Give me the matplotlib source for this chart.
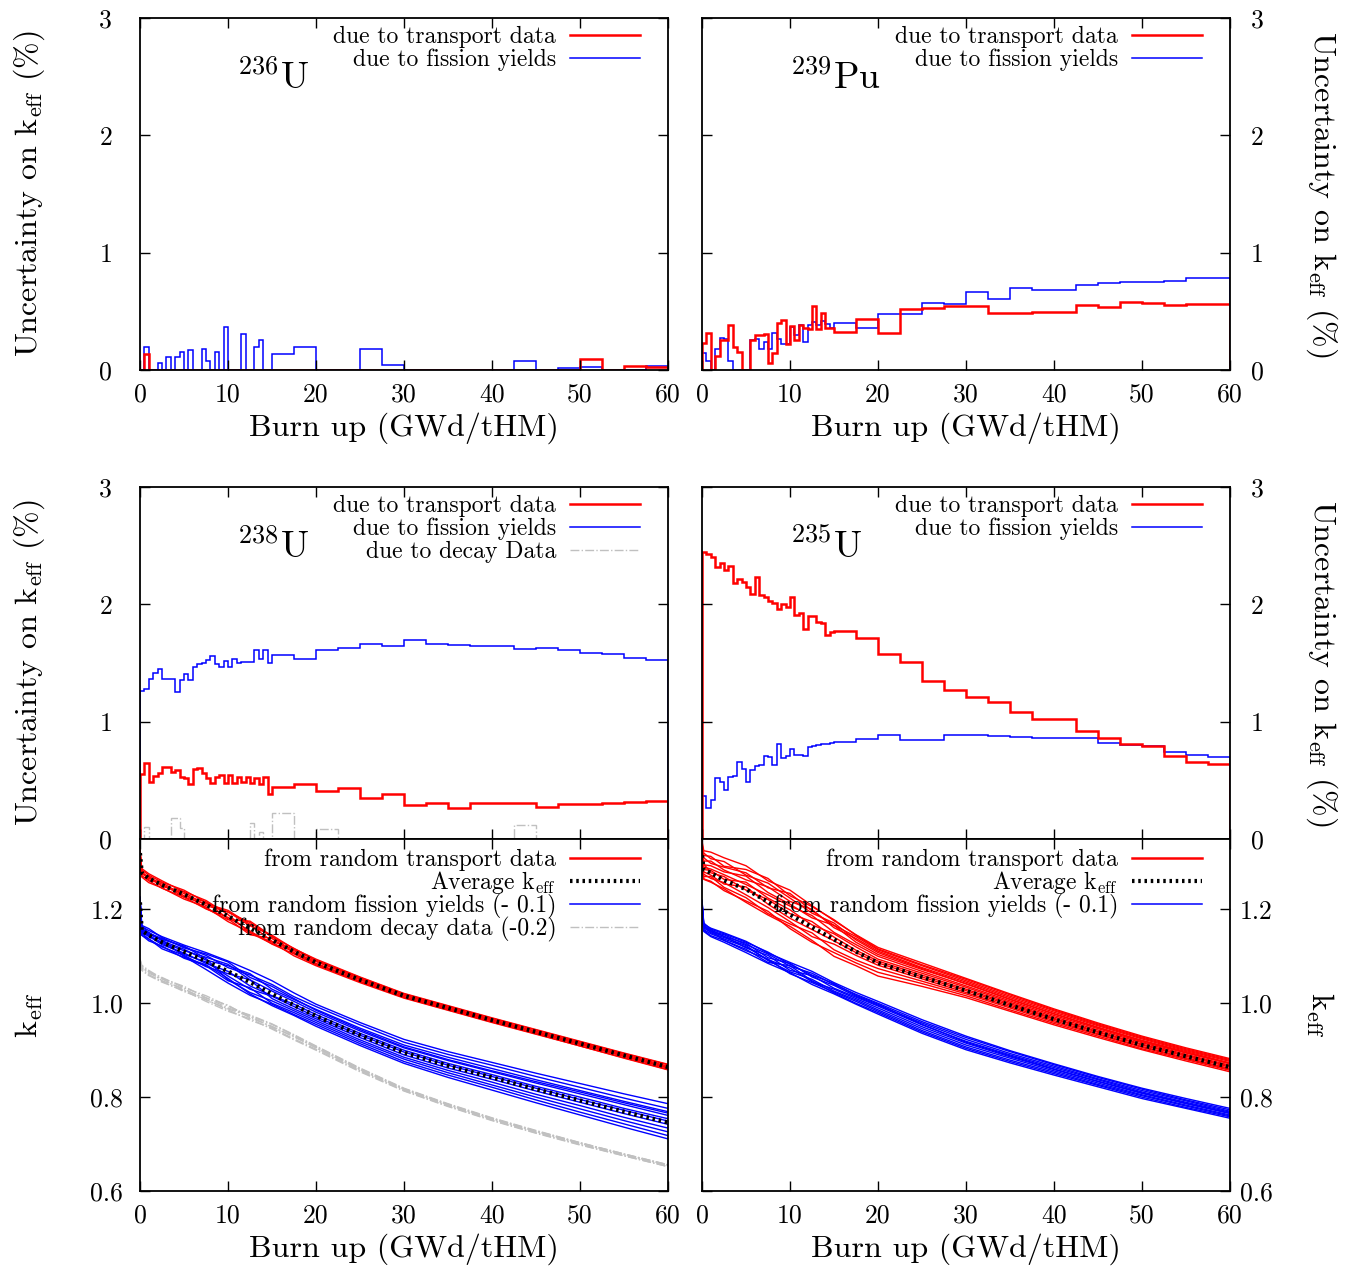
import numpy as np
import matplotlib
matplotlib.use("Agg")
import matplotlib.pyplot as plt
from matplotlib.lines import Line2D
from matplotlib.ticker import FixedLocator, StrMethodFormatter

plt.rcParams['font.family'] = 'cmr10'
plt.rcParams['mathtext.fontset'] = 'cm'
plt.rcParams['axes.unicode_minus'] = False

# Burn-up bins: 0.5 GWd/tHM steps up to 15, then 2.5 GWd/tHM steps
edges = np.concatenate([np.arange(0, 15, 0.5), np.arange(15, 60.01, 2.5)])

# Relative uncertainty on keff (%) per burn-up bin
u236_tr = [0, 0.14, 0, 0, 0, 0, 0, 0, 0, 0, 0, 0, 0, 0, 0, 0, 0, 0, 0, 0,
           0, 0, 0, 0, 0, 0, 0, 0, 0, 0,
           0, 0, 0, 0, 0, 0, 0, 0, 0, 0, 0, 0, 0, 0, 0.094, 0, 0.034, 0.023]
u236_fy = [0, 0.2, 0, 0, 0.057, 0, 0.114, 0, 0.108, 0.15, 0, 0.17, 0, 0, 0.176, 0.08,
           0, 0.156, 0, 0.364, 0, 0, 0, 0.31, 0, 0, 0.2, 0.256, 0, 0,
           0.14, 0.2, 0, 0, 0.18, 0.043, 0, 0, 0, 0, 0, 0.08, 0, 0.02, 0.028, 0, 0, 0.034]

pu239_tr = [0.227, 0.312, 0, 0.122, 0.255, 0.255, 0.383, 0.2, 0.15, 0, 0, 0.255, 0.298,
            0.30, 0.306, 0.062, 0.142, 0.397, 0.425, 0.218, 0.374, 0.255, 0.383, 0.355,
            0.35, 0.548, 0.348, 0.482, 0.355, 0.355,
            0.326, 0.434, 0.312, 0.516, 0.53, 0.545, 0.548, 0.49, 0.49, 0.496, 0.496,
            0.553, 0.54, 0.58, 0.574, 0.553, 0.562, 0.562]
pu239_fy = [0.142, 0.08, 0, 0.176, 0.275, 0.26, 0.08, 0, 0, 0, 0, 0.255, 0.26, 0.176,
            0.24, 0.176, 0.318, 0.26, 0.22, 0.22, 0.363, 0.298, 0.383, 0.24, 0.383,
            0.41, 0.383, 0.417, 0.39, 0.36,
            0.40, 0.36, 0.48, 0.48, 0.573, 0.562, 0.667, 0.604, 0.695, 0.686, 0.686,
            0.723, 0.743, 0.752, 0.752, 0.76, 0.786, 0.786]

u238_tr = [0.55, 0.644, 0.488, 0.536, 0.559, 0.61, 0.61, 0.573, 0.587, 0.525, 0.522,
           0.468, 0.596, 0.601, 0.559, 0.522, 0.479, 0.525, 0.545, 0.479, 0.545, 0.474,
           0.53, 0.488, 0.53, 0.474, 0.522, 0.468, 0.53, 0.383,
           0.445, 0.465, 0.409, 0.431, 0.346, 0.383, 0.289, 0.309, 0.267, 0.304, 0.304,
           0.304, 0.275, 0.298, 0.298, 0.304, 0.312, 0.323]
u238_fy = [1.262, 1.282, 1.367, 1.416, 1.452, 1.367, 1.367, 1.367, 1.254, 1.359, 1.41,
           1.353, 1.467, 1.489, 1.50, 1.523, 1.557, 1.489, 1.467, 1.515, 1.467, 1.532,
           1.50, 1.509, 1.509, 1.509, 1.608, 1.532, 1.614, 1.50,
           1.566, 1.538, 1.614, 1.631, 1.665, 1.645, 1.694, 1.66, 1.657, 1.643, 1.643,
           1.623, 1.631, 1.609, 1.589, 1.574, 1.543, 1.523]
u238_dd = [0, 0.1, 0, 0, 0, 0, 0, 0.176, 0.176, 0.09, 0, 0, 0, 0, 0, 0, 0, 0, 0, 0,
           0, 0, 0, 0, 0, 0.14, 0, 0.06, 0, 0,
           0.218, 0, 0.082, 0, 0, 0, 0, 0, 0, 0, 0, 0.12, 0, 0, 0, 0, 0, 0]

u235_tr = [2.445, 2.43, 2.40, 2.32, 2.35, 2.29, 2.33, 2.18, 2.22, 2.19, 2.15, 2.09, 2.23,
           2.08, 2.06, 2.03, 2.01, 1.96, 2.00, 1.98, 2.06, 1.91, 1.93, 1.79, 1.90, 1.90,
           1.85, 1.84, 1.74, 1.76,
           1.77, 1.71, 1.58, 1.51, 1.35, 1.27, 1.21, 1.17, 1.08, 1.02, 1.02, 0.92, 0.86,
           0.81, 0.79, 0.71, 0.66, 0.635]
u235_fy = [0.37, 0.26, 0.33, 0.52, 0.49, 0.42, 0.53, 0.54, 0.66, 0.60, 0.49, 0.59, 0.62,
           0.63, 0.71, 0.70, 0.63, 0.81, 0.69, 0.71, 0.77, 0.72, 0.72, 0.71, 0.78, 0.79,
           0.80, 0.81, 0.81, 0.82,
           0.83, 0.85, 0.885, 0.84, 0.84, 0.89, 0.89, 0.88, 0.87, 0.865, 0.865, 0.86,
           0.82, 0.80, 0.79, 0.74, 0.72, 0.70]

# keff evolution: average curves at the burn-up nodes
burnup_k = [0, 0.2, 1, 2.5, 5, 7.5, 10, 12.5, 15, 17.5, 20, 25, 30, 35, 40, 45, 50, 55, 60]

u238_tr_avg = [1.320, 1.278, 1.266, 1.252, 1.232, 1.210, 1.186, 1.160, 1.135, 1.110,
               1.087, 1.050, 1.016, 0.990, 0.964, 0.939, 0.914, 0.889, 0.864]
u238_fy_avg = [1.215, 1.155, 1.145, 1.130, 1.110, 1.090, 1.068, 1.045, 1.020, 0.996,
               0.973, 0.932, 0.895, 0.867, 0.842, 0.817, 0.793, 0.769, 0.746]
u238_dd_avg = [1.090, 1.075, 1.065, 1.050, 1.030, 1.010, 0.990, 0.970, 0.950, 0.928,
               0.905, 0.858, 0.816, 0.783, 0.753, 0.726, 0.701, 0.677, 0.654]
u235_tr_avg = [1.315, 1.285, 1.278, 1.262, 1.243, 1.216, 1.189, 1.162, 1.136, 1.110,
               1.086, 1.056, 1.027, 0.996, 0.966, 0.938, 0.911, 0.887, 0.864]
u235_fy_avg = [1.210, 1.162, 1.152, 1.140, 1.120, 1.097, 1.075, 1.054, 1.032, 1.010,
               0.990, 0.950, 0.915, 0.886, 0.859, 0.833, 0.808, 0.786, 0.765]

# individual random runs, offset from the average (in 1e-3)
u238_tr_runs = [
    [5, 6, 7, 6, 9, 5, 8, 12, 6, 7, 5, 5, 4, 4, 4, 4, 4, 4, 5],
    [-5, -6, -5, -7, -6, -9, -3, -6, -9, -5, -5, -4, -4, -4, -4, -4, -5, -5, -5],
    [2, 3, 0, 5, -3, 6, -6, -14, 3, -3, 2, 2, 1, 0, 1, 1, 1, 0, 0],
    [8, 9, 10, 9, 5, -2, 9, 5, 10, 6, 7, 6, 5, 5, 5, 5, 5, 5, 6],
    [-8, -9, -9, -6, -10, -5, -12, -9, -5, -9, -7, -6, -5, -5, -5, -5, -5, -6, -6],
    [0, -2, 3, -3, 6, 9, 3, -10, -8, 2, -2, 0, -2, -2, 0, -2, 0, -2, -2],
    [3, 2, -3, 2, -6, 2, 12, 8, -3, 5, 3, 3, 2, 2, 2, 1, 2, 2, 2],
    [-3, -3, 5, -2, 2, -8, -8, 15, 8, -2, -3, -3, -2, -2, -2, -2, -2, -2, -2],
]
u238_fy_runs = [
    [10, 8, 10, 12, 14, 18, 22, 25, 28, 26, 25, 27, 28, 30, 32, 34, 36, 38, 40],
    [6, 5, 4, 8, 10, 12, 8, 15, 20, 18, 20, 22, 22, 24, 26, 27, 28, 29, 30],
    [2, 2, 6, 3, 5, 2, 12, 18, 10, 12, 14, 15, 16, 18, 19, 20, 21, 22, 23],
    [-2, 0, -3, 0, 2, 8, 15, 5, 6, 8, 8, 9, 10, 11, 12, 13, 14, 15, 15],
    [-5, -4, -2, -5, -3, -5, 0, -8, -4, 2, 3, 4, 5, 5, 6, 6, 7, 7, 8],
    [4, 3, 0, -2, -6, -2, -10, -15, -5, -3, -2, 0, 1, 1, 2, 2, 2, 3, 3],
    [-8, -6, -8, -10, -8, -12, -5, 5, -10, -8, -6, -5, -5, -5, -4, -4, -4, -4, -4],
    [8, 10, 5, 6, 12, 5, -18, -22, -15, -12, -10, -10, -10, -10, -10, -11, -11, -12, -12],
    [-10, -10, -12, -8, -14, -10, -20, -12, -20, -16, -14, -14, -14, -15, -16, -17, -18, -19, -20],
    [0, -2, 2, 5, -10, -18, -25, -28, -22, -20, -18, -18, -19, -20, -21, -23, -25, -26, -28],
    [12, 11, 14, 10, 8, 15, 20, 10, 16, 14, 12, 12, 12, 13, 14, 16, 18, 19, 20],
    [-12, -10, -8, -14, -12, -8, -15, -25, -25, -22, -22, -22, -23, -25, -27, -29, -31, -33, -35],
]
u238_dd_runs = [
    [3, 4, 2, 5, 3, 6, 4, 3, 5, 4, 3, 3, 2, 2, 2, 2, 2, 2, 2],
    [-3, -2, -4, -3, -5, -2, -4, -6, -3, -4, -3, -2, -2, -2, -2, -2, -2, -2, -2],
    [0, 1, -1, 2, -2, 1, 6, -1, 1, 0, 1, 0, 0, 0, 0, 0, 0, 0, 0],
    [5, 6, 5, 3, 6, 2, 0, 5, 6, 5, 4, 4, 3, 3, 3, 3, 2, 2, 2],
    [-5, -5, -6, -5, -3, -6, -7, -3, -5, -6, -5, -4, -3, -3, -3, -3, -3, -2, -2],
    [1, -1, 3, -2, 1, -3, -2, 2, -1, 2, 0, 1, 1, 1, 1, 1, 1, 1, 1],
]
u235_tr_runs = [
    [30, 40, 44, 48, 50, 45, 52, 46, 40, 36, 33, 30, 26, 24, 22, 20, 19, 18, 18],
    [20, 30, 35, 30, 42, 50, 40, 44, 42, 35, 30, 26, 24, 22, 20, 18, 17, 16, 16],
    [15, 25, 20, 28, 35, 30, 45, 35, 30, 32, 28, 24, 21, 19, 18, 16, 15, 14, 14],
    [10, 18, 25, 22, 20, 32, 28, 38, 25, 28, 25, 20, 18, 16, 15, 14, 13, 12, 12],
    [5, 10, 15, 18, 28, 20, 22, 20, 30, 20, 18, 16, 15, 13, 12, 11, 10, 10, 9],
    [0, 5, 8, 12, 10, 15, 18, 25, 15, 15, 14, 12, 10, 9, 8, 8, 7, 7, 7],
    [-5, 0, 5, 2, 15, 8, 10, 5, 12, 10, 8, 8, 7, 6, 5, 5, 5, 4, 4],
    [10, 12, 0, 8, -2, 5, 2, 12, 5, 3, 4, 4, 3, 3, 2, 2, 2, 2, 2],
    [-8, -5, -5, -8, 5, -5, -8, -5, -3, -2, 0, 0, 0, 0, 0, 0, 0, 0, 0],
    [-12, -10, -12, -5, -12, -12, -15, -20, -10, -8, -5, -4, -4, -3, -3, -3, -3, -3, -3],
    [-15, -15, -8, -15, -18, -25, -20, -12, -22, -18, -12, -9, -7, -6, -6, -5, -5, -5, -5],
    [-18, -20, -18, -22, -25, -20, -30, -32, -28, -24, -20, -14, -11, -10, -9, -8, -8, -7, -7],
    [-22, -21, -20, -18, -28, -28, -25, -28, -36, -30, -28, -20, -15, -13, -12, -11, -10, -10, -10],
    [25, 35, 30, 40, 30, 40, 35, 30, 35, 25, 22, 18, 14, 12, 11, 10, 9, 8, 8],
]
u235_fy_runs = [
    [8, 6, 8, 10, 12, 10, 12, 14, 12, 13, 14, 15, 15, 13, 12, 11, 11, 11, 11],
    [4, 5, 2, 6, 5, 8, 4, 10, 8, 9, 10, 11, 12, 11, 10, 9, 9, 8, 8],
    [0, 2, 5, 2, 8, 0, 10, 2, 6, 5, 6, 8, 8, 7, 7, 6, 6, 6, 5],
    [-3, -2, 0, 3, -2, 5, -5, 5, 0, 3, 4, 4, 4, 4, 4, 4, 3, 3, 3],
    [-6, -5, -4, -3, 0, -4, 0, -8, -2, 0, 0, 0, 0, 0, 0, 0, 0, 0, 0],
    [6, 3, -2, 0, 3, -6, -8, -3, -6, -3, -4, -4, -4, -3, -3, -3, -3, -3, -3],
    [-8, -7, -8, -6, -8, -3, -12, -10, -8, -6, -7, -8, -8, -7, -6, -6, -5, -5, -5],
    [2, 0, 3, -6, -5, -10, 5, -6, -10, -10, -10, -11, -11, -10, -9, -8, -8, -8, -7],
    [-10, -9, -10, -10, -12, -12, -10, -14, -12, -12, -13, -14, -14, -13, -12, -11, -11, -10, -10],
    [10, 9, 6, 8, 10, 12, 8, 6, 10, 7, 8, 5, 2, 2, 1, 1, 1, 1, 1],
]

RED, BLUE, GREY = '#ff0000', '#0000ff', '#c0c0c0'
DOTS = (0, (0.6, 0.9))
W, H = 1348, 1266
fig = plt.figure(figsize=(W / 100, H / 100), dpi=100)


def make_axes(x0, y0):
    ax = fig.add_axes([x0 / W, 1 - (y0 + 352) / H, 528 / W, 352 / H])
    ax.tick_params(direction='in', length=7, width=1, top=True, right=True,
                   labelsize=18.5)
    for s in ax.spines.values():
        s.set_linewidth(1.3)
    ax.set_xlim(0, 60)
    ax.xaxis.set_major_locator(FixedLocator([0, 10, 20, 30, 40, 50, 60]))
    return ax


def unc_axes(x0, y0, side, xlabels):
    ax = make_axes(x0, y0)
    ax.set_ylim(0, 3)
    ax.yaxis.set_major_locator(FixedLocator([0, 1, 2, 3]))
    ylab = r'Uncertainty on $\mathrm{k_{eff}}$ (%)'
    if side == 'left':
        ax.tick_params(axis='y', pad=20)
        ax.set_ylabel(ylab, fontsize=23)
        ax.yaxis.set_label_coords(-0.176, 0.5)
    else:
        ax.tick_params(axis='y', labelleft=False, labelright=True, pad=15)
        ax.yaxis.set_label_position('right')
        ax.set_ylabel(ylab, fontsize=23, rotation=270, va='bottom')
        ax.yaxis.set_label_coords(1.14, 0.5)
    if xlabels:
        ax.tick_params(axis='x', pad=9)
        ax.set_xlabel('Burn up (GWd/tHM)', fontsize=23, labelpad=4)
    else:
        ax.tick_params(axis='x', labelbottom=False)
    return ax


def keff_axes(x0, y0, side):
    ax = make_axes(x0, y0)
    ax.set_ylim(0.6, 1.35)
    ax.yaxis.set_major_locator(FixedLocator([0.6, 0.8, 1.0, 1.2]))
    ax.yaxis.set_major_formatter(StrMethodFormatter('{x:.1f}'))
    ax.tick_params(axis='x', pad=9)
    ax.set_xlabel('Burn up (GWd/tHM)', fontsize=23, labelpad=4)
    if side == 'left':
        ax.tick_params(axis='y', pad=12)
        ax.set_ylabel(r'$\mathrm{k_{eff}}$', fontsize=23)
        ax.yaxis.set_label_coords(-0.18, 0.5)
    else:
        ax.tick_params(axis='y', labelleft=False, labelright=True, pad=7)
        ax.yaxis.set_label_position('right')
        ax.set_ylabel(r'$\mathrm{k_{eff}}$', fontsize=23, rotation=270, va='bottom')
        ax.yaxis.set_label_coords(1.14, 0.5)
    return ax


def legend(ax, handles, labels, top, spacing):
    ax.legend(handles, labels, loc='upper right', bbox_to_anchor=(0.947, top),
              frameon=False, markerfirst=False, fontsize=17, handlelength=2.95,
              handletextpad=0.6, labelspacing=spacing, borderaxespad=0, borderpad=0)


h_tr = Line2D([], [], color=RED, lw=1.8)
h_fy = Line2D([], [], color=BLUE, lw=1.1)
h_dd = Line2D([], [], color=GREY, lw=1.0, ls='-.')
h_avg = Line2D([], [], color='black', lw=3.0, ls=DOTS)

# uncertainty panels
panels = [
    ((140, 18), 'left', True, r'$^{236}$U', u236_tr, u236_fy, None),
    ((702, 18), 'right', True, r'$^{239}$Pu', pu239_tr, pu239_fy, None),
    ((140, 487), 'left', False, r'$^{238}$U', u238_tr, u238_fy, u238_dd),
    ((702, 487), 'right', False, r'$^{235}$U', u235_tr, u235_fy, None),
]
for (x0, y0), side, xl, iso, tr, fy, dd in panels:
    ax = unc_axes(x0, y0, side, xl)
    if dd is not None:
        ax.stairs(dd, edges, baseline=0, color=GREY, lw=1.0, ls='-.')
    ax.stairs(fy, edges, baseline=0, color=BLUE, lw=1.1)
    ax.stairs(tr, edges, baseline=0, color=RED, lw=1.8)
    ax.text(0.184 if side == 'left' else 0.167, 0.83, iso, transform=ax.transAxes,
            fontsize=27, va='center')
    hs = [h_tr, h_fy]
    ls = ['due to transport data', 'due to fission yields']
    if dd is not None:
        hs.append(h_dd)
        ls.append('due to decay Data')
    legend(ax, hs, ls, 0.978, 0.04)


def draw_runs(ax, avg, runs, color, **kw):
    for d in runs:
        ax.plot(burnup_k, np.array(avg) + np.array(d) / 1000.0, color=color, lw=1.0, **kw)


# keff panels
ax = keff_axes(140, 839, 'left')
draw_runs(ax, u238_dd_avg, u238_dd_runs, GREY, ls='-.')
draw_runs(ax, u238_fy_avg, u238_fy_runs, BLUE)
draw_runs(ax, u238_tr_avg, u238_tr_runs, RED)
ax.plot(burnup_k, u238_fy_avg, color='black', lw=3.0, ls=DOTS)
ax.plot(burnup_k, u238_tr_avg, color='black', lw=3.0, ls=DOTS)
legend(ax, [h_tr, h_avg, h_fy, h_dd],
       ['from random transport data', r'Average $\mathrm{k_{eff}}$',
        'from random fission yields (- 0.1)', 'from random decay data (-0.2)'],
       0.972, -0.09)

ax = keff_axes(702, 839, 'right')
draw_runs(ax, u235_fy_avg, u235_fy_runs, BLUE)
draw_runs(ax, u235_tr_avg, u235_tr_runs, RED)
ax.plot(burnup_k, u235_tr_avg, color='black', lw=3.0, ls=DOTS)
legend(ax, [h_tr, h_avg, h_fy],
       ['from random transport data', r'Average $\mathrm{k_{eff}}$',
        'from random fission yields (- 0.1)'], 0.972, -0.09)

fig.savefig('out.png', dpi=100)
